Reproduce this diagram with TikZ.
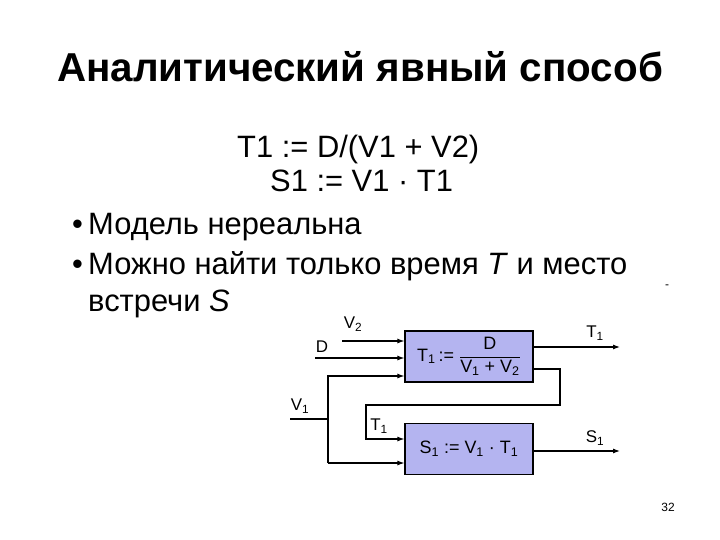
\documentclass[tikz,border=0pt]{standalone}
\usepackage{amsmath}
\usepackage{fontspec}
\setmainfont{Liberation Sans}
\usepackage{tikz}
\usetikzlibrary{arrows.meta}

\definecolor{boxblue}{RGB}{180,180,240}

\tikzset{
  calcbox/.style={draw, fill=boxblue, line width=1.2bp, minimum width=128bp,
    minimum height=51bp, inner sep=0pt, font=\fontsize{18}{20}\selectfont},
  wire/.style={line width=1.1bp},
  sig/.style={wire, -{Latex[length=7bp,width=5bp]}},
  siglabel/.style={font=\fontsize{17}{19}\selectfont, inner sep=0pt},
  bodytext/.style={font=\fontsize{31}{36}\selectfont, inner sep=0pt, anchor=base west}
}

\begin{document}
\begin{tikzpicture}[x=1bp, y=-1bp]
  \useasboundingbox (0,0) rectangle (720,540);

  % title and text
  \node[font=\fontsize{40.5}{46}\selectfont\bfseries, inner sep=0pt, anchor=base] (title) at (360,82) {Аналитический явный способ};
  \node[bodytext] (eqT) at (237,158) {T1 := D/(V1 + V2)};
  \node[bodytext] (eqS) at (270,192) {S1 := V1 · T1};
  \node[bodytext] (dotA) at (72,235) {•};
  \node[bodytext] (itemA) at (88,235) {Модель нереальна};
  \node[bodytext] (dotB) at (72,275) {•};
  \node[bodytext] (itemB) at (88,275) {Можно найти только время \textit{T} и место};
  \node[bodytext] (itemC) at (88,311) {встречи \textit{S}};
  \node[font=\fontsize{12}{14}\selectfont, inner sep=0pt] (dash) at (667,287) {-};
  \node[font=\fontsize{12}{14}\selectfont, inner sep=0pt] (page) at (668,507) {32};

  % blocks
  \node[calcbox] (calcT) at (469,356.5) {T\textsubscript{1}\,:= $\dfrac{\mbox{D}}{\mbox{V\textsubscript{1} + V\textsubscript{2}}}$};
  \node[calcbox] (calcS) at (469,449) {S\textsubscript{1} := V\textsubscript{1} · T\textsubscript{1}};

  % wire points
  \coordinate (vtwo) at (342,341);
  \coordinate (din) at (315,358);
  \coordinate (vone) at (290,419);
  \coordinate (vjoin) at (328,419);
  \coordinate (vup) at (328,376);
  \coordinate (vdown) at (328,463);
  \coordinate (tout) at (533,369);
  \coordinate (fbturn) at (560,405);
  \coordinate (fbleft) at (366,439);
  \coordinate (tend) at (620,347);
  \coordinate (send) at (620,451);

  % wires
  \draw[sig] (vtwo) -- (vtwo -| calcT.west);
  \draw[sig] (din) -- (din -| calcT.west);
  \draw[wire] (vone) -- (vjoin);
  \draw[sig] (vdown) -- (vup) -- (vup -| calcT.west);
  \draw[sig] (vdown) -- (vdown -| calcS.west);
  \draw[sig] (tout) -| (fbturn) -| (fbleft) -- (fbleft -| calcS.west);
  \draw[sig] (tend -| calcT.east) -- (tend);
  \draw[sig] (send -| calcS.east) -- (send);

  % labels
  \node[siglabel] (lvtwo) at (353,324) {V\textsubscript{2}};
  \node[siglabel] (ld) at (322,347) {D};
  \node[siglabel] (lvone) at (300,406) {V\textsubscript{1}};
  \node[siglabel] (ltin) at (379,426) {T\textsubscript{1}};
  \node[siglabel] (ltout) at (595,333) {T\textsubscript{1}};
  \node[siglabel] (lsout) at (595,438) {S\textsubscript{1}};
\end{tikzpicture}
\end{document}
